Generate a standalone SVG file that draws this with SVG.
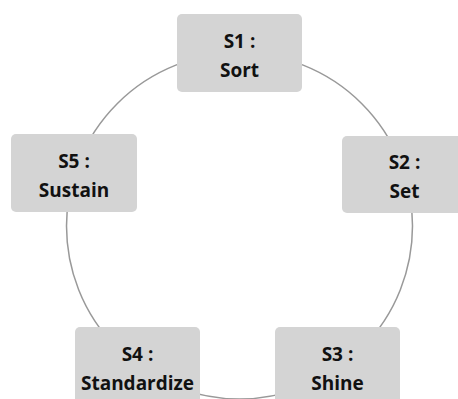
<svg xmlns="http://www.w3.org/2000/svg" width="458" height="399" viewBox="0 0 458 399">
<style>
.box{fill:#d4d4d4;}
.t{font-family:"Open Sans","Noto Sans",sans-serif;font-weight:bold;font-size:19px;fill:#111;text-anchor:middle;}
.c{fill:none;stroke:#999;stroke-width:1.5;}
</style>
<rect width="458" height="399" fill="#fff"/>
<g id="connectors">
<circle class="c" cx="239.5" cy="226" r="173"/>
</g>
<g id="s1">
<rect class="box" x="177" y="14" width="125" height="78" rx="5"/>
<text class="t" x="239.5" y="48">S1 :</text>
<text class="t" x="239.5" y="77">Sort</text>
</g>
<g id="s2">
<rect class="box" x="342" y="136" width="125" height="77" rx="5"/>
<text class="t" x="404.5" y="169">S2 :</text>
<text class="t" x="404.5" y="198">Set</text>
</g>
<g id="s3">
<rect class="box" x="275" y="327" width="125" height="78" rx="5"/>
<text class="t" x="337.5" y="361">S3 :</text>
<text class="t" x="337.5" y="390">Shine</text>
</g>
<g id="s4">
<rect class="box" x="75" y="327" width="125" height="78" rx="5"/>
<text class="t" x="137.5" y="361">S4 :</text>
<text class="t" x="137.5" y="390">Standardize</text>
</g>
<g id="s5">
<rect class="box" x="11" y="134" width="126" height="78" rx="5"/>
<text class="t" x="74" y="168">S5 :</text>
<text class="t" x="74" y="197">Sustain</text>
</g>
</svg>
